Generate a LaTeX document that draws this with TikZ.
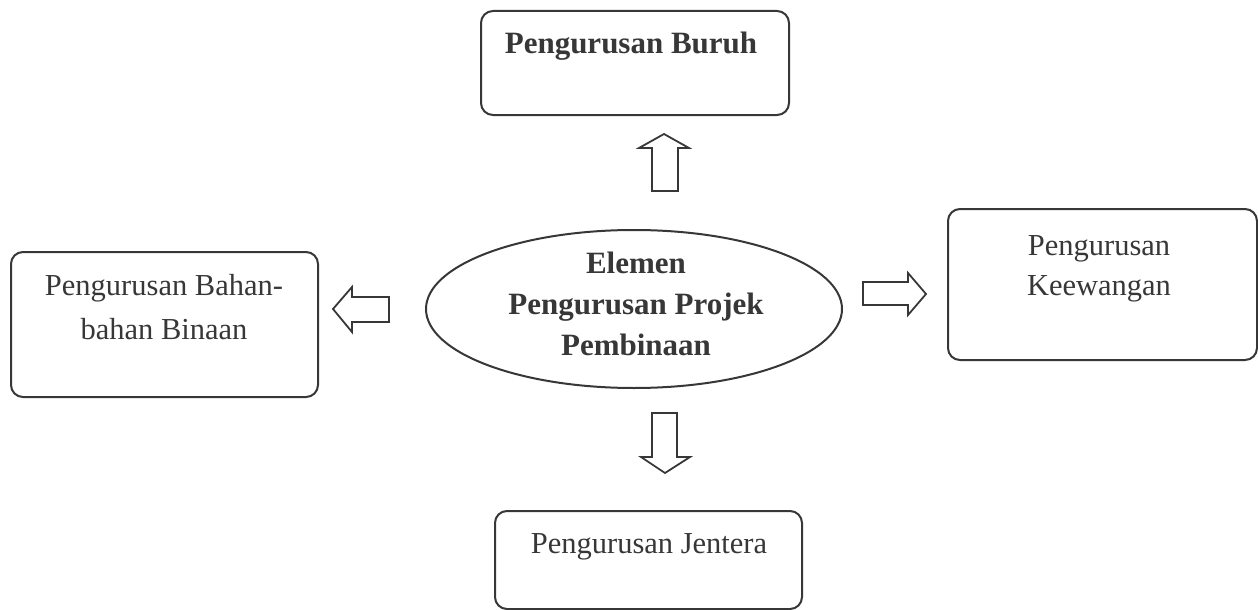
\documentclass[tikz,border=0pt]{standalone}
\usepackage{fontspec}
\setmainfont{Liberation Serif}
\usetikzlibrary{shapes.geometric}
\definecolor{ink}{RGB}{55,55,55}
\tikzset{
  kotak/.style={draw=ink, line width=2pt, rounded corners=12pt, anchor=north west, inner sep=0pt},
  bujur/.style={draw=ink, line width=2pt, ellipse, inner sep=0pt},
  panah/.style={draw=ink, line width=1.8pt, line join=miter},
  tulis/.style={text=ink, inner sep=0pt, align=center, font=\fontsize{30.5}{44}\selectfont},
  tulisB/.style={tulis, font=\fontsize{31}{41}\selectfont\bfseries}
}
\begin{document}
\begin{tikzpicture}[x=1pt,y=-1pt]
  \useasboundingbox (0,0) rectangle (1258,610);
  % boxes
  \node[kotak, minimum width=308, minimum height=104] (buruh) at (480,10) {};
  \node[kotak, minimum width=307, minimum height=145] (bahan) at (10,251) {};
  \node[kotak, minimum width=309, minimum height=151] (wang) at (947,208) {};
  \node[kotak, minimum width=307, minimum height=98] (jentera) at (494,510) {};
  \node[bujur, minimum width=416, minimum height=158] (elemen) at (634,309) {};
  % texts (base = last line)
  \node[tulisB, anchor=base] (tBuruh) at (631,53) {Pengurusan Buruh};
  \node[tulis, anchor=base] (tBahan) at (164,339) {Pengurusan Bahan-\\bahan Binaan};
  \node[tulis, anchor=base, font=\fontsize{30.5}{40}\selectfont] (tWang) at (1099,295) {Pengurusan\\Keewangan};
  \node[tulis, anchor=base] (tJentera) at (649,553) {Pengurusan Jentera};
  \node[tulisB, anchor=base] (tElemen) at (636,355) {Elemen\\Pengurusan Projek\\Pembinaan};
  % block arrows
  \draw[panah] (664,134) -- (689,148) -- (678,148) -- (678,191) -- (652,191) -- (652,148) -- (639,148) -- cycle;
  \draw[panah] (665,473) -- (690,457) -- (677,457) -- (677,413) -- (652,413) -- (652,457) -- (641,457) -- cycle;
  \draw[panah] (926,294) -- (908,315) -- (908,305) -- (863,305) -- (863,282) -- (908,282) -- (908,273) -- cycle;
  \draw[panah] (333,309) -- (352,332) -- (352,322) -- (389,322) -- (389,297) -- (352,297) -- (352,287) -- cycle;
\end{tikzpicture}
\end{document}
